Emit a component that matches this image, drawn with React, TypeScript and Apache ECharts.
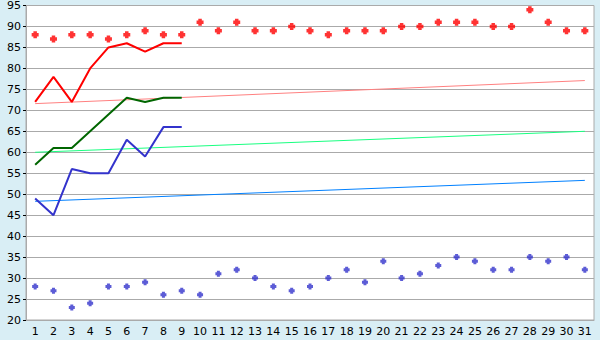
import React, { useEffect, useRef } from "react";
import * as echarts from "echarts";

const days = Array.from({ length: 31 }, (_, i) => String(i + 1));

const redDots = [88, 87, 88, 88, 87, 88, 89, 88, 88, 91, 89, 91, 89, 89, 90, 89, 88, 89, 89, 89, 90, 90, 91, 91, 91, 90, 90, 94, 91, 89, 89];
const blueDots = [28, 27, 23, 24, 28, 28, 29, 26, 27, 26, 31, 32, 30, 28, 27, 28, 30, 32, 29, 34, 30, 31, 33, 35, 34, 32, 32, 35, 34, 35, 32];
const redLine = [72, 78, 72, 80, 85, 86, 84, 86, 86];
const greenLine = [57, 61, 61, 65, 69, 73, 72, 73, 73];
const blueLine = [49, 45, 56, 55, 55, 63, 59, 66, 66];

const redTrend = [71.6, 77.1];
const greenTrend = [60, 65];
const blueTrend = [48.3, 53.3];

const yTicks = { min: 20, max: 95, interval: 5 };

const plusPath = "path://M1.25,0H3.75V1.25H5V3.75H3.75V5H1.25V3.75H0V1.25H1.25Z";

export default function App() {
  const ref = useRef<HTMLDivElement>(null);
  useEffect(() => {
    if (!ref.current) return;
    const chart = echarts.init(ref.current, null, { renderer: "svg" });
    const font = "DejaVu Sans";
    const trend = (name: string, vals: number[], color: string) => ({
      name,
      type: "line",
      data: [[days[0], vals[0]], [days[days.length - 1], vals[1]]],
      symbol: "none",
      lineStyle: { color, width: 1 },
      z: 2,
    });
    chart.setOption({
      animation: false,
      backgroundColor: "#d9eef5",
      grid: {
        left: 26,
        right: 6,
        top: 5,
        bottom: 20,
        show: true,
        backgroundColor: "#ffffff",
        borderColor: "#aaaaaa",
        borderWidth: 1,
      },
      xAxis: {
        type: "category",
        data: days,
        boundaryGap: true,
        axisLine: { lineStyle: { color: "#aaaaaa", width: 1 } },
        axisTick: { alignWithLabel: true, length: 5, lineStyle: { color: "#000000" } },
        axisLabel: { color: "#000000", fontFamily: font, fontSize: 11, margin: 6, interval: 0 },
        splitLine: { show: false },
      },
      yAxis: {
        type: "value",
        min: yTicks.min,
        max: yTicks.max,
        interval: yTicks.interval,
        axisLine: { show: true, lineStyle: { color: "#aaaaaa" } },
        axisTick: { show: true, length: 3, lineStyle: { color: "#000000" } },
        axisLabel: { color: "#000000", fontFamily: font, fontSize: 11, margin: 5 },
        splitLine: { lineStyle: { color: "#aaaaaa", width: 1 } },
      },
      series: [
        trend("redTrend", redTrend, "#ff8080"),
        trend("greenTrend", greenTrend, "#19ff80"),
        trend("blueTrend", blueTrend, "#0080ff"),
        {
          name: "red",
          type: "line",
          data: redLine,
          symbol: "none",
          lineStyle: { color: "#ff0000", width: 2 },
          z: 3,
        },
        {
          name: "green",
          type: "line",
          data: greenLine,
          symbol: "none",
          lineStyle: { color: "#006600", width: 2 },
          z: 3,
        },
        {
          name: "blue",
          type: "line",
          data: blueLine,
          symbol: "none",
          lineStyle: { color: "#3333cc", width: 2 },
          z: 3,
        },
        {
          name: "redDots",
          type: "scatter",
          data: redDots,
          symbol: plusPath,
          symbolSize: 7,
          itemStyle: { color: "#ff0000" },
          z: 4,
        },
        {
          name: "blueDots",
          type: "scatter",
          data: blueDots,
          symbol: plusPath,
          symbolSize: 6,
          itemStyle: { color: "#3333cc" },
          z: 4,
        },
      ],
    });
    return () => chart.dispose();
  }, []);
  return (
    <div
      ref={ref}
      style={{ position: "fixed", left: 0, top: 0, width: 600, height: 340 }}
    />
  );
}
